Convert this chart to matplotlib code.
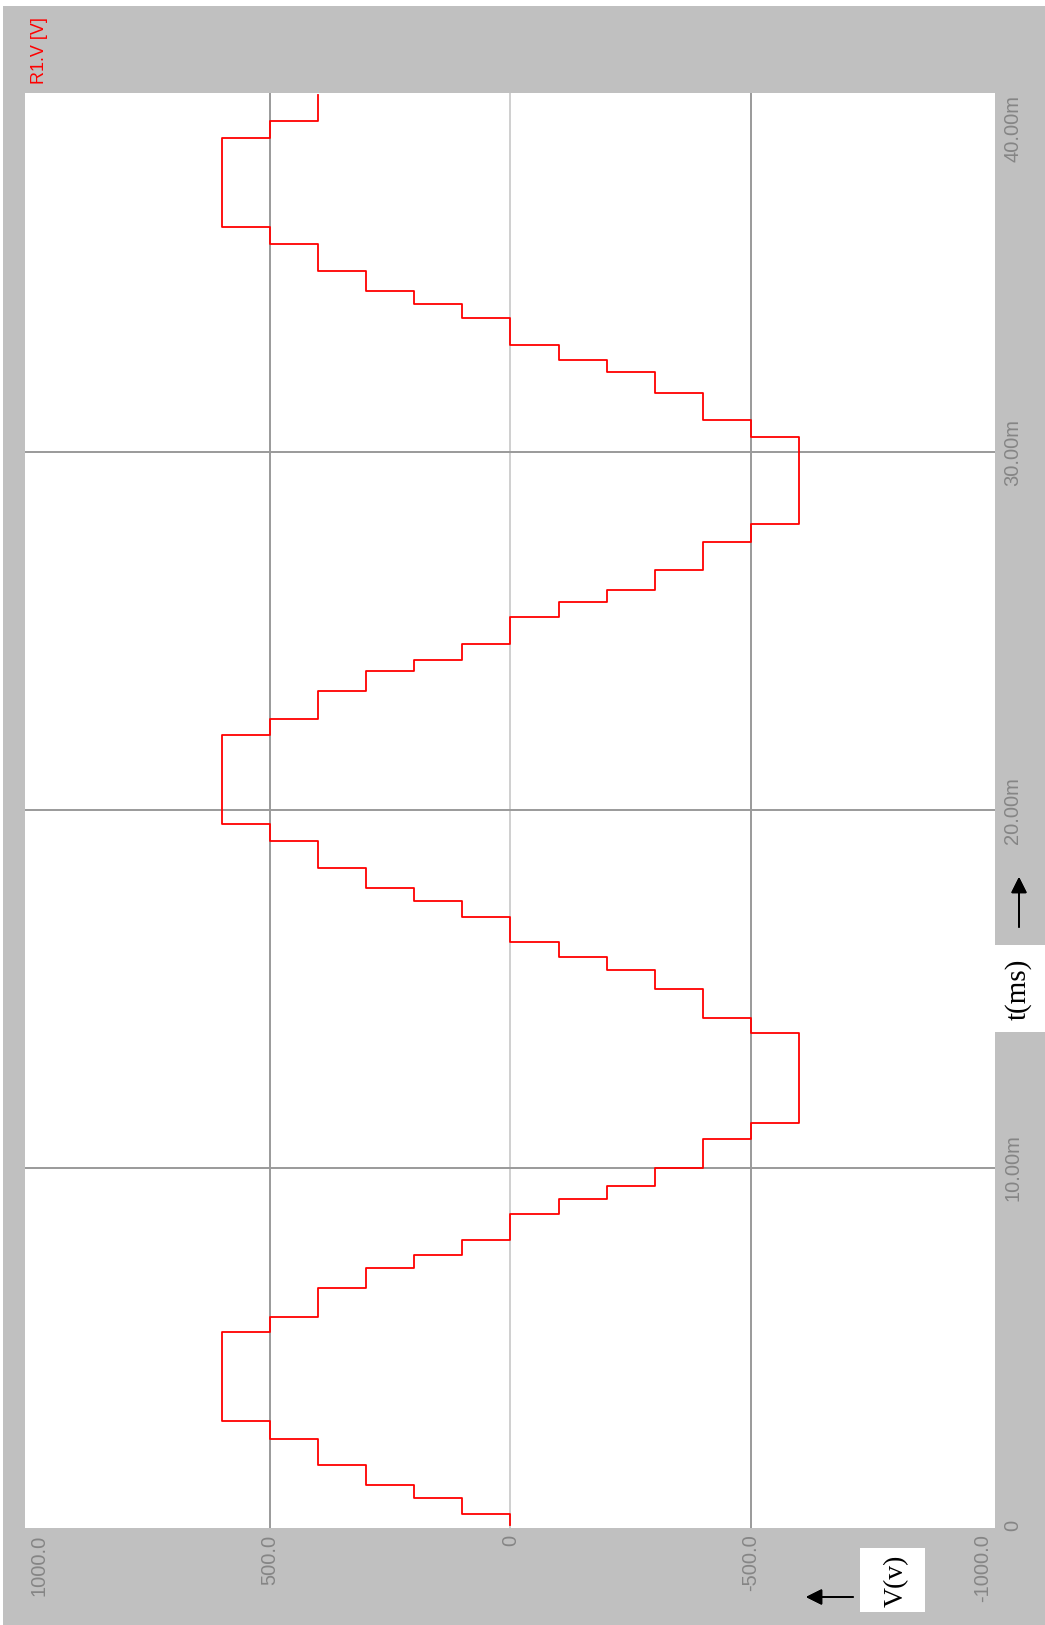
import numpy as np
import matplotlib
matplotlib.use('Agg')
import matplotlib.pyplot as plt
from matplotlib.patches import Rectangle

# stepped voltage on R1
t_steps = [0.0, 0.32, 0.76, 1.12, 1.68, 2.43, 2.91, 5.40, 5.82, 6.63, 7.19, 7.57,
           7.99, 8.70, 9.12, 9.49, 10.00, 10.80, 11.24, 13.77, 14.19, 14.99, 15.52,
           15.90, 16.32, 17.02, 17.46, 17.82, 18.37, 19.13, 19.61, 22.10, 22.56,
           23.32, 23.89, 24.21, 24.64, 25.39, 25.81, 26.15, 26.71, 27.51, 27.99,
           30.42, 30.90, 31.65, 32.26, 32.59, 33.01, 33.76, 34.14, 34.52, 35.08,
           35.83, 36.31, 38.79, 39.26]
t_end = 40.0
v_levels = [0, 100, 200, 300, 400, 500, 600, 500, 400, 300, 200, 100,
            0, -100, -200, -300, -400, -500, -600, -500, -400, -300, -200,
            -100, 0, 100, 200, 300, 400, 500, 600, 500, 400,
            300, 200, 100, 0, -100, -200, -300, -400, -500, -600,
            -500, -400, -300, -200, -100, 0, 100, 200, 300, 400,
            500, 600, 500, 400]

v_ticks = [1000, 500, 0, -500, -1000]
v_labels = ['1000.0', '500.0', '0', '-500.0', '-1000.0']
t_ticks = [0, 10, 20, 30, 40]
t_labels = ['0', '10.00m', '20.00m', '30.00m', '40.00m']
v_grid = [500, 0, -500]
t_grid = [10, 20, 30]

W, H = 1045, 1625


def fx(px):
    return px / W


def fy(py):
    return 1 - py / H


fig = plt.figure(figsize=(W / 100, H / 100), dpi=100)
fig.patch.set_facecolor('white')
fig.add_artist(Rectangle((fx(3), 0), 1 - fx(3), fy(6), transform=fig.transFigure,
                         facecolor='#c0c0c0', edgecolor='none', zorder=0))

ax = fig.add_axes([fx(25), fy(1528), fx(995) - fx(25), fy(93) - fy(1528)])
ax.set_facecolor('white')
for s in ax.spines.values():
    s.set_visible(False)

ax.set_xlim(1009, -1007)
ax.set_ylim(-0.07, 40.05)

for v in v_grid:
    ax.axvline(v, color='#cfcfcf' if v == 0 else '#9a9a9a', lw=1.4, zorder=1)
for t in t_grid:
    ax.axhline(t, color='#9a9a9a', lw=1.4, zorder=1)

# hold each level over its time interval (time runs up the page)
edges = np.array(t_steps + [t_end])
tt = np.repeat(edges, 2)[1:-1]
vv = np.repeat(np.array(v_levels), 2)
ax.plot(vv, tt, color='#ff0000', lw=1.3, zorder=3)

lab_font = dict(family='Liberation Sans', size=14.5)
ax.set_xticks(v_ticks)
ax.set_xticklabels(v_labels, fontdict=lab_font)
ax.tick_params(axis='x', length=0, pad=4.6, labelcolor='#858585', labelrotation=90)
xl = ax.get_xticklabels()
for lab in xl:
    lab.set_va('top')
xl[0].set_ha('left')
xl[-1].set_ha('right')

ax.yaxis.tick_right()
ax.set_yticks(t_ticks)
ax.set_yticklabels(t_labels, fontdict=lab_font)
ax.tick_params(axis='y', length=0, pad=5.8, labelcolor='#858585', labelrotation=90)
yl = ax.get_yticklabels()
for lab in yl:
    lab.set_va('center')
    lab.set_ha('left')
yl[-1].set_va('top')

fig.text(fx(40), fy(51), 'R1.V [V]', rotation=90, ha='center', va='center',
         color='#ff0000', family='Liberation Sans', size=13)

# axis name boxes with arrows
fig.add_artist(Rectangle((fx(995), fy(1032)), fx(1045) - fx(995), fy(945) - fy(1032),
                         transform=fig.transFigure, facecolor='white', edgecolor='none', zorder=2))
fig.text(fx(1018), fy(989), 't(ms)', rotation=90, ha='center', va='center',
         family='Liberation Serif', size=21, color='black', zorder=3)
fig.add_artist(Rectangle((fx(860), fy(1612)), fx(925) - fx(860), fy(1548) - fy(1612),
                         transform=fig.transFigure, facecolor='white', edgecolor='none', zorder=2))
fig.text(fx(896), fy(1581), 'V(v)', rotation=90, ha='center', va='center',
         family='Liberation Serif', size=20, color='black', zorder=3)

arrow = dict(arrowstyle='-|>', color='black', lw=1.3, mutation_scale=24, shrinkA=0, shrinkB=0)
fig.add_artist(plt.annotate('', xy=(fx(1019), fy(877)), xytext=(fx(1019), fy(927)),
                            xycoords='figure fraction', textcoords='figure fraction',
                            arrowprops=arrow))
fig.add_artist(plt.annotate('', xy=(fx(806), fy(1597)), xytext=(fx(853), fy(1597)),
                            xycoords='figure fraction', textcoords='figure fraction',
                            arrowprops=arrow))

fig.savefig('out.png', dpi=100, facecolor=fig.get_facecolor())
